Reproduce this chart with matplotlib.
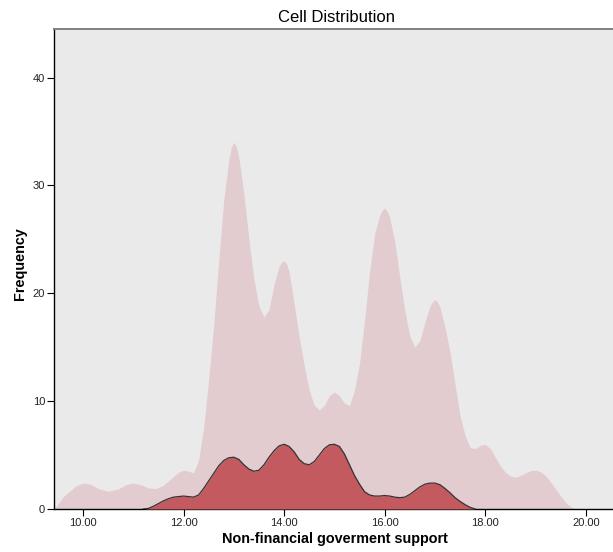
import matplotlib
matplotlib.use("Agg")
import matplotlib.pyplot as plt

# Smoothed frequency curves (x = support score, y = frequency)
TOTAL_X = [9.43, 9.5, 9.6, 9.7, 9.85, 10.0, 10.15, 10.3, 10.5, 10.7, 10.85, 11.0, 11.15, 11.3,
           11.45, 11.6, 11.75, 11.9, 12.0, 12.1, 12.2, 12.3, 12.4, 12.5, 12.6, 12.7, 12.8, 12.9,
           12.95, 13.0, 13.05, 13.1, 13.2, 13.3, 13.4, 13.5, 13.6, 13.7, 13.8, 13.9, 13.95, 14.0,
           14.05, 14.1, 14.2, 14.3, 14.4, 14.5, 14.6, 14.7, 14.8, 14.9, 15.0, 15.1, 15.2, 15.3,
           15.4, 15.5, 15.6, 15.7, 15.8, 15.9, 15.95, 16.0, 16.05, 16.1, 16.2, 16.3, 16.4, 16.5,
           16.6, 16.7, 16.8, 16.9, 16.95, 17.0, 17.05, 17.1, 17.2, 17.3, 17.4, 17.5, 17.6, 17.7,
           17.8, 17.9, 18.0, 18.1, 18.2, 18.3, 18.4, 18.5, 18.6, 18.7, 18.8, 18.9, 19.0, 19.1,
           19.2, 19.3, 19.4, 19.5, 19.6, 19.7, 19.8]
TOTAL_Y = [0.0, 0.4, 1.1, 1.5, 2.1, 2.4, 2.3, 1.9, 1.65, 1.85, 2.25, 2.4, 2.25, 1.95,
           1.9, 2.2, 2.8, 3.4, 3.6, 3.5, 3.35, 4.5, 7.5, 12.0, 17.0, 23.0, 28.6, 32.3,
           33.5, 34.0, 33.6, 32.6, 29.2, 25.0, 21.3, 18.8, 17.8, 18.5, 20.8, 22.5, 22.9, 23.0,
           22.7, 22.0, 19.0, 16.0, 13.3, 11.0, 9.6, 9.2, 9.6, 10.5, 10.85, 10.5, 9.8, 9.6,
           11.0, 13.5, 17.5, 22.0, 25.5, 27.2, 27.7, 27.9, 27.6, 27.0, 24.8, 21.5, 18.4, 16.0,
           15.0, 15.6, 17.3, 18.8, 19.2, 19.4, 19.2, 18.7, 16.8, 14.5, 11.5, 8.6, 6.8, 5.7,
           5.6, 5.9, 6.0, 5.6, 4.8, 4.0, 3.4, 3.05, 2.95, 3.1, 3.35, 3.55, 3.6, 3.45,
           3.1, 2.5, 1.85, 1.2, 0.6, 0.2, 0.0]

CELL_X = [11.2, 11.3, 11.4, 11.5, 11.6, 11.7, 11.8, 11.9, 12.0, 12.1, 12.2, 12.3, 12.4, 12.5,
          12.6, 12.7, 12.8, 12.9, 13.0, 13.1, 13.2, 13.3, 13.4, 13.5, 13.6, 13.7, 13.8, 13.9,
          14.0, 14.1, 14.2, 14.3, 14.4, 14.5, 14.6, 14.7, 14.8, 14.9, 15.0, 15.1, 15.2, 15.3,
          15.4, 15.5, 15.6, 15.7, 15.8, 15.9, 16.0, 16.1, 16.2, 16.3, 16.4, 16.5, 16.6, 16.7,
          16.8, 16.9, 17.0, 17.1, 17.2, 17.3, 17.4, 17.5, 17.6, 17.7, 17.8]
CELL_Y = [0.0, 0.05, 0.25, 0.5, 0.75, 0.95, 1.1, 1.15, 1.2, 1.15, 1.1, 1.3, 1.9, 2.6,
          3.3, 4.0, 4.5, 4.75, 4.8, 4.6, 4.1, 3.7, 3.5, 3.6, 4.1, 4.8, 5.4, 5.85,
          6.0, 5.8, 5.3, 4.6, 4.2, 4.1, 4.4, 5.0, 5.6, 5.95, 6.0, 5.8, 5.1, 4.1,
          3.1, 2.3, 1.6, 1.3, 1.2, 1.2, 1.25, 1.2, 1.1, 1.05, 1.1, 1.35, 1.7, 2.05,
          2.3, 2.4, 2.4, 2.25, 1.9, 1.5, 1.05, 0.7, 0.4, 0.15, 0.0]

X_TICKS = [10, 12, 14, 16, 18, 20]
Y_TICKS = [0, 10, 20, 30, 40]

plt.rcParams["font.family"] = ["Liberation Sans", "DejaVu Sans"]

W, H = 613, 552
fig = plt.figure(figsize=(W / 100, H / 100), dpi=100, facecolor="white")
ax = fig.add_axes([54 / W, (H - 509) / H, (W - 54) / W, (509 - 29) / H])
ax.set_facecolor("#eaeaea")

ax.fill_between(TOTAL_X, TOTAL_Y, 0, color="#e2cccf", linewidth=0, zorder=2)
ax.fill_between(CELL_X, CELL_Y, 0, color="#c25a60", linewidth=0, zorder=3)
ax.plot(CELL_X, CELL_Y, color="#333333", linewidth=0.9, zorder=4)

ax.set_xlim(9.425, 20.54)
ax.set_ylim(0, 44.5)
ax.set_xticks(X_TICKS)
ax.set_xticklabels([f"{t:.2f}" for t in X_TICKS])
ax.set_yticks(Y_TICKS)
ax.tick_params(direction="out", length=5, width=0.8, labelsize=8, color="black",
               labelcolor="#222222", pad=1.5)

for side in ["left", "bottom"]:
    ax.spines[side].set_color("black")
    ax.spines[side].set_linewidth(1.0)
ax.spines["top"].set_color("#808080")
ax.spines["top"].set_linewidth(1.4)
ax.spines["right"].set_visible(False)

fig.text(337 / W, 1 - 17 / H, "Cell Distribution", ha="center", va="center", fontsize=12)
fig.text(335 / W, 1 - 539 / H, "Non-financial goverment support", ha="center", va="center",
         fontsize=10.4, fontweight="bold")
fig.text(20 / W, 1 - 264 / H, "Frequency", ha="center", va="center", rotation=90,
         fontsize=10.4, fontweight="bold")

fig.savefig("out.png", dpi=100, facecolor="white")
